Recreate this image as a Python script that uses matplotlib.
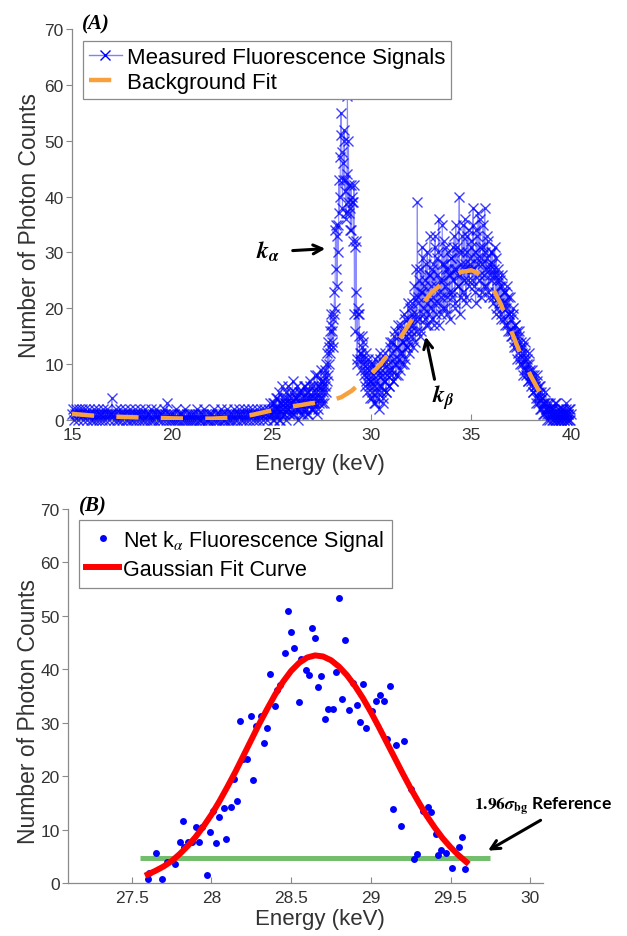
import numpy as np
import matplotlib
matplotlib.use('Agg')
import matplotlib.pyplot as plt
from matplotlib.lines import Line2D

plt.rcParams['font.family'] = ['Liberation Sans', 'DejaVu Sans']
plt.rcParams['mathtext.fontset'] = 'stix'

# ---------------- Panel A data ----------------
counts_low = [  # 15.00 .. 24.95 keV, step 0.05
    1, 2, 0, 1, 2, 1, 0, 2, 1, 1, 2, 0, 1, 2, 1, 0, 1, 2, 1, 0,
    1, 0, 2, 1, 0, 1, 2, 0, 1, 1, 0, 2, 1, 0, 1, 2, 1, 0, 1, 1,
    4, 1, 0, 1, 2, 0, 1, 0, 2, 1, 0, 1, 1, 2, 0, 1, 0, 1, 2, 0,
    1, 0, 1, 2, 0, 1, 1, 0, 2, 1, 0, 1, 0, 2, 1, 0, 1, 1, 0, 2,
    0, 1, 0, 1, 2, 1, 0, 1, 0, 1, 1, 0, 2, 1, 0, 3, 1, 0, 1, 0,
    1, 0, 1, 0, 2, 0, 1, 0, 1, 1, 0, 1, 0, 2, 0, 1, 0, 1, 0, 1,
    0, 1, 0, 1, 0, 2, 1, 0, 0, 1, 0, 1, 2, 0, 1, 0, 0, 1, 0, 1,
    1, 0, 2, 0, 1, 0, 1, 0, 1, 2, 0, 1, 0, 0, 1, 2, 0, 1, 0, 1,
    0, 1, 2, 0, 1, 0, 1, 2, 1, 0, 1, 0, 2, 1, 0, 1, 2, 0, 1, 1,
    2, 0, 1, 1, 0, 2, 1, 0, 1, 2, 1, 0, 2, 1, 1, 0, 2, 1, 3, 1]
counts_rise = [  # 25.00 .. 27.45 keV, step 0.05
    1, 3, 0, 2, 1, 4, 2, 0, 3, 1,
    6, 2, 1, 3, 0, 4, 2, 3, 1, 5,
    2, 7, 1, 3, 4, 2, 0, 5, 3, 2,
    4, 1, 6, 3, 2, 5, 1, 4, 6, 2,
    3, 5, 2, 8, 4, 1, 6, 3, 5, 7]
counts_rise_b = [  # 25.025 .. 27.475 keV, step 0.05
    2, 0, 3, 1, 4, 2, 1, 5, 0, 3,
    2, 4, 1, 3, 5, 2, 6, 1, 3, 4,
    3, 1, 5, 2, 4, 6, 2, 3, 5, 1,
    5, 3, 2, 6, 4, 1, 5, 3, 7, 4,
    2, 6, 4, 3, 5, 8, 2, 6, 4, 9]
counts_peak = [  # 27.500 .. 29.975 keV, step 0.025
    4, 6, 3, 7, 5, 3, 8, 6, 9, 5, 10, 7, 12, 8, 14, 10, 13, 16, 12, 19,
    17, 14, 16, 18, 13, 19, 23, 20,
    34, 27, 35, 24, 33, 35, 30, 43,
    37, 40, 47, 55, 51, 48, 38, 46,
    43, 52, 50, 41, 43, 36, 37, 44,
    58, 39, 50, 37, 42, 38, 34, 42,
    34, 39, 40, 39, 32, 42, 19, 31,
    16, 32, 23, 10, 11, 19, 20, 19,
    15, 11, 12, 12, 9, 13, 15, 10,
    14, 8, 11, 6, 9, 12, 7, 10,
    5, 8, 11, 6, 9, 4, 7, 10]
counts_high = [  # 30.00 .. 40.00 keV, step 0.05
    7, 4, 10, 6, 3, 9, 5, 8, 2, 11, 6, 9, 4, 7, 12, 5, 8, 10, 6, 13,
    9, 14, 7, 11, 16, 10, 13, 8, 15, 12, 17, 10, 14, 19, 11, 16, 13, 18, 12, 20,
    15, 21, 17, 24, 14, 19, 39, 22, 18, 27, 16, 23, 29, 20, 25, 17, 30, 22, 19, 26,
    24, 18, 28, 21, 33, 19, 26, 30, 17, 25, 22, 35, 20, 28, 24, 31, 19, 27, 23, 26,
    29, 22, 25, 33, 20, 27, 31, 24, 40, 26, 22, 30, 35, 25, 28, 21, 33, 27, 24, 29,
    32, 25, 38, 27, 23, 34, 29, 37, 26, 31, 22, 28, 35, 24, 30, 27, 33, 23, 28, 26,
    25, 30, 21, 27, 23, 29, 20, 26, 22, 25, 19, 24, 21, 18, 23, 20, 17, 22, 19, 16,
    18, 15, 20, 14, 17, 13, 16, 12, 15, 11, 14, 10, 13, 9, 12, 8, 11, 7, 10, 9,
    7, 9, 5, 8, 6, 4, 7, 3, 5, 6, 2, 4, 3, 1, 3, 2, 0, 2, 1, 3,
    1, 0, 2, 1, 0, 3, 1, 0, 2, 1, 0, 1, 2, 0, 1, 3, 0, 1, 2, 0,
    1]
counts_high_b = [  # 30.025 .. 39.925 keV, step 0.05
    5, 8, 3, 11, 7, 4, 9, 6, 12, 5, 8, 3, 10, 7, 5, 11, 9, 6, 14, 8,
    12, 7, 15, 10, 8, 13, 17, 11, 9, 16, 12, 14, 10, 18, 15, 13, 21, 14, 17, 16,
    19, 13, 22, 18, 27, 16, 21, 25, 15, 23, 31, 19, 24, 18, 28, 21, 17, 26, 33, 20,
    27, 22, 17, 31, 24, 29, 21, 36, 23, 19, 28, 25, 32, 20, 27, 22, 30, 26, 18, 29,
    23, 31, 27, 21, 35, 26, 24, 30, 19, 28, 33, 23, 27, 36, 22, 30, 25, 34, 28, 31,
    27, 35, 24, 30, 21, 33, 28, 25, 36, 29, 23, 31, 26, 38, 24, 29, 32, 22, 27, 30,
    28, 22, 26, 31, 19, 25, 27, 21, 24, 18, 26, 20, 23, 17, 21, 24, 16, 19, 22, 15,
    16, 19, 13, 17, 15, 11, 14, 16, 10, 13, 12, 8, 11, 14, 9, 10, 7, 12, 8, 6,
    8, 5, 7, 6, 3, 8, 4, 6, 2, 5, 4, 1, 3, 5, 2, 1, 3, 0, 2, 1,
    2, 0, 1, 3, 0, 1, 2, 0, 1, 0, 2, 1, 0, 1, 2, 0, 1, 0, 2]
energy_low = np.linspace(15.0, 24.95, len(counts_low))
energy_rise = np.linspace(25.0, 27.45, len(counts_rise))
energy_rise_b = np.linspace(25.025, 27.475, len(counts_rise_b))
energy_peak = np.linspace(27.5, 29.975, len(counts_peak))
energy_high = np.linspace(30.0, 40.0, len(counts_high))
energy_high_b = np.linspace(30.025, 39.925, len(counts_high_b))

bg_energy = [15, 16, 17, 18, 19, 20, 21, 22, 23, 24, 25, 26, 27, 27.5, 28, 28.5,
             29, 29.5, 30, 30.5, 31, 31.5, 32, 32.5, 33, 33.5, 34, 34.5, 35,
             35.5, 36, 36.5, 37, 37.5, 38, 38.5, 38.85]
bg_counts = [1.1, 0.8, 0.6, 0.5, 0.4, 0.3, 0.25, 0.25, 0.4, 0.9, 1.7, 2.4, 3.0,
             3.2, 3.5, 4.1, 5.2, 6.8, 8.2, 10.2, 12.5, 15.0, 17.8, 20.5, 22.8,
             24.3, 25.6, 26.5, 26.8, 26.1, 24.2, 20.6, 16.0, 11.5, 7.8, 4.5, 1.8]

# ---------------- Panel B data ----------------
net_energy = [27.60, 27.61, 27.65, 27.69, 27.72, 27.77, 27.80, 27.82, 27.83, 27.85,
              27.88, 27.90, 27.92, 27.94, 27.97, 27.99, 28.01, 28.03, 28.05, 28.08,
              28.09, 28.12, 28.14, 28.16, 28.18, 28.20, 28.22, 28.25, 28.26, 28.28,
              28.31, 28.33, 28.35, 28.37, 28.40, 28.41, 28.43, 28.46, 28.48, 28.50,
              28.52, 28.55, 28.56, 28.59, 28.61, 28.63, 28.65, 28.67, 28.69, 28.71,
              28.73, 28.76, 28.78, 28.80, 28.82, 28.84, 28.86, 28.89, 28.91, 28.93,
              28.95, 28.97, 29.01, 29.03, 29.06, 29.08, 29.10, 29.12, 29.14, 29.16,
              29.19, 29.21, 29.25, 29.27, 29.29, 29.33, 29.36, 29.38, 29.41, 29.42,
              29.44, 29.47, 29.51, 29.55, 29.57, 29.59]
net_counts = [0.8, 1.9, 5.7, 0.8, 3.9, 3.6, 7.6, 11.6, 6.7, 7.6,
              7.6, 10.5, 7.6, 10.5, 1.5, 9.5, 13.5, 7.4, 12.4, 14.1,
              8.3, 14.3, 19.5, 15.3, 30.4, 23.2, 23.3, 31.3, 19.3, 29.3,
              31.3, 26.2, 29.1, 39.2, 33.1, 36.2, 37.1, 43.0, 51.0, 47.0,
              43.9, 33.9, 41.9, 39.9, 38.9, 47.8, 45.8, 36.7, 38.7, 30.7,
              32.6, 32.6, 39.5, 53.3, 34.4, 45.5, 32.4, 37.4, 33.3, 30.2,
              37.2, 29.1, 32.1, 34.1, 35.1, 34.0, 27.0, 36.9, 13.8, 25.8,
              10.7, 26.6, 17.6, 4.5, 5.4, 13.5, 14.3, 13.3, 9.2, 5.2,
              6.2, 5.7, 2.9, 6.8, 8.7, 2.7]

fit_energy = [27.60, 27.65, 27.70, 27.75, 27.80, 27.85, 27.90, 27.95, 28.00, 28.05,
              28.10, 28.15, 28.20, 28.25, 28.30, 28.35, 28.40, 28.45, 28.50, 28.55,
              28.60, 28.65, 28.70, 28.75, 28.80, 28.85, 28.90, 28.95, 29.00, 29.05,
              29.10, 29.15, 29.20, 29.25, 29.30, 29.35, 29.40, 29.45, 29.50, 29.55,
              29.60]
fit_counts = [1.6, 2.3, 3.1, 4.1, 5.4, 6.9, 8.6, 10.6, 12.8, 15.3,
              18.0, 20.8, 23.8, 26.8, 29.8, 32.6, 35.3, 37.7, 39.7, 41.2,
              42.2, 42.6, 42.4, 41.7, 40.5, 38.9, 36.9, 34.6, 32.0, 29.2,
              26.3, 23.4, 20.5, 17.7, 15.1, 12.6, 10.4, 8.4, 6.7, 5.2, 3.9]

ref_energy = [27.55, 29.75]
ref_counts = [4.7, 4.7]

# ---------------- Styling ----------------
BLUE = '#0000FF'
ORANGE = '#F7A13E'
GREEN = '#72BE6C'
SPINE = '#8a8a8a'
TXT = '#333333'

fig = plt.figure(figsize=(6.27, 9.37), dpi=100)
ax1 = fig.add_axes([72/627, 1-421/937, 499/627, 391/937])
ax2 = fig.add_axes([68/627, 1-884/937, 475/627, 374/937])


def style(ax):
    for s in ['top', 'right']:
        ax.spines[s].set_visible(False)
    for s in ['left', 'bottom']:
        ax.spines[s].set_color(SPINE)
        ax.spines[s].set_linewidth(0.9)
    ax.tick_params(axis='x', direction='in', length=4, pad=5, color=SPINE,
                   labelcolor=TXT, labelsize=12.5)
    ax.tick_params(axis='y', direction='out', length=4, pad=2, color=SPINE,
                   labelcolor=TXT, labelsize=12.5)


# ---- Panel A ----
energy_all = np.concatenate([energy_low, energy_rise, energy_rise_b, energy_peak,
                             energy_high, energy_high_b])
counts_all = np.concatenate([counts_low, counts_rise, counts_rise_b, counts_peak,
                             counts_high, counts_high_b])
order = np.argsort(energy_all, kind='stable')
energy_all = energy_all[order]
counts_all = counts_all[order]
ax1.plot(energy_all, counts_all, '-', color=BLUE, alpha=0.45, lw=0.8, zorder=2)
ax1.plot(energy_all, counts_all, 'x', color=BLUE, alpha=0.75, ms=7, mew=1.0,
         clip_on=False, zorder=3)
ax1.plot(bg_energy, bg_counts, color=ORANGE, lw=3.2, dashes=(5, 5), zorder=4)
ax1.set_xlim(15, 40)
ax1.set_ylim(0, 70)
ax1.set_xticks([15, 20, 25, 30, 35, 40])
ax1.set_yticks(range(0, 71, 10))
style(ax1)
ax1.set_xlabel('Energy (keV)', fontsize=16, color=TXT)
ax1.set_ylabel('Number of Photon Counts', fontsize=16.5, color=TXT)
ax1.xaxis.set_label_coords(0.497, -0.085)
ax1.yaxis.set_label_coords(-0.062, 0.5)

h1 = [Line2D([], [], color='#8080ff', lw=1, marker='x', mec=BLUE, ms=7, mew=1.0),
      Line2D([], [], color=ORANGE, lw=3.2, dashes=(5, 5))]
leg1 = ax1.legend(h1, ['Measured Fluorescence Signals', 'Background Fit'],
                  loc='upper left', bbox_to_anchor=(0.022, 0.969), borderaxespad=0,
                  fontsize=16, frameon=True, fancybox=False, framealpha=1,
                  edgecolor=SPINE, borderpad=0.25, labelspacing=0.2,
                  handlelength=1.5, handletextpad=0.25)
leg1.get_frame().set_linewidth(0.9)

ax1.annotate('', xy=(27.83, 30.7), xytext=(25.92, 30.3),
             arrowprops=dict(arrowstyle='->', lw=2.2, color='black',
                             mutation_scale=16))
ax1.text(24.82, 30.2, r'$\mathbfit{k}_{\mathbfit{\alpha}}$', fontsize=17,
         ha='center', va='center')
ax1.annotate('', xy=(32.69, 15.4), xytext=(33.19, 6.8),
             arrowprops=dict(arrowstyle='->', lw=2.2, color='black',
                             mutation_scale=16))
ax1.text(33.59, 4.2, r'$\mathbfit{k}_{\mathbfit{\beta}}$', fontsize=17,
         ha='center', va='center')

fig.text(82/627, 1-24/937, '(A)', fontfamily='Liberation Serif',
         fontweight='bold', fontstyle='italic', fontsize=15, va='center')

# ---- Panel B ----
ax2.plot(ref_energy, ref_counts, color=GREEN, lw=3.6, solid_capstyle='butt',
         zorder=2)
ax2.plot(net_energy, net_counts, 'o', color=BLUE, ms=5, mew=0, zorder=3)
ax2.plot(fit_energy, fit_counts, color='red', lw=4.3, zorder=4)
ax2.set_xlim(27.1, 30.08)
ax2.set_ylim(0, 70)
ax2.set_xticks([27.5, 28, 28.5, 29, 29.5, 30])
ax2.set_xticklabels(['27.5', '28', '28.5', '29', '29.5', '30'])
ax2.set_yticks(range(0, 71, 10))
style(ax2)
ax2.set_xlabel('Energy (keV)', fontsize=16, color=TXT)
ax2.set_ylabel('Number of Photon Counts', fontsize=16.5, color=TXT)
ax2.xaxis.set_label_coords(0.53, -0.066)
ax2.yaxis.set_label_coords(-0.058, 0.46)

h2 = [Line2D([], [], ls='none', marker='o', color=BLUE, ms=5, mew=0),
      Line2D([], [], color='red', lw=4.3)]
leg2 = ax2.legend(h2, [r'Net k$_{\alpha}$ Fluorescence Signal', 'Gaussian Fit Curve'],
                  loc='upper left', bbox_to_anchor=(0.023, 0.9706), borderaxespad=0,
                  fontsize=15.5, frameon=True, fancybox=False, framealpha=1,
                  edgecolor=SPINE, borderpad=0.35, labelspacing=0.3,
                  handlelength=1.5, handletextpad=0.2)
leg2.get_frame().set_linewidth(0.9)

ax2.annotate('', xy=(29.72, 5.8), xytext=(30.08, 12.0),
             arrowprops=dict(arrowstyle='->', lw=2.2, color='black',
                             mutation_scale=16), annotation_clip=False)
ax2.text(29.645, 14.4, r'$\mathbf{1.96}\mathbfit{\sigma}_{\mathbf{bg}}$ Reference',
         fontsize=12.5, fontweight='bold', family=['Lato', 'DejaVu Sans'],
         ha='left', va='center', clip_on=False)

fig.text(79/627, 1-506/937, '(B)', fontfamily='Liberation Serif',
         fontweight='bold', fontstyle='italic', fontsize=15, va='center')

fig.savefig('out.png', dpi=100)
